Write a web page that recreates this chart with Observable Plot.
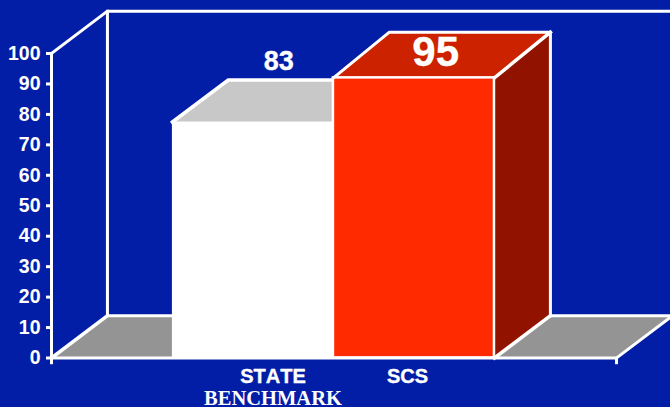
<!DOCTYPE html>
<html>
<head>
<meta charset="utf-8">
<script src="https://cdn.jsdelivr.net/npm/d3@7"></script>
<script src="https://cdn.jsdelivr.net/npm/@observablehq/plot@0.6"></script>
<style>html,body{margin:0;padding:0;background:#031ea6;overflow:hidden}svg{display:block}svg text{font-kerning:none}</style>
</head>
<body>
<div id="chart"></div>
<script>
const categories = ["STATE", "SCS"];
const categoryX = [39.2, 63];
const printedValues = [83, 95];
const barLeft = [21.4, 49.9];
const barRight = [49.9, 78.4];
const barFrontTop = [77.5, 92];
const barBackTop = [91.3, 107];
const depthX = 9.9;
const depthY = 13.9;
const yTicks = [0, 10, 20, 30, 40, 50, 60, 70, 80, 90, 100];
const floorEnd = 100;

const WHITE = "#ffffff";
const path = (...pts) => pts.map(([x, y]) => ({x, y}));
const L = barLeft, R = barRight, F = barFrontTop, B = barBackTop;

const fillFace = (pts, fill) => Plot.line(pts, {x: "x", y: "y", fill, stroke: "none", curve: "linear"});
const strokeLine = (pts, strokeWidth = 3) =>
  Plot.line(pts, {x: "x", y: "y", stroke: WHITE, strokeWidth, strokeLinecap: "square", strokeLinejoin: "miter"});
const heavy = {stroke: WHITE, strokeWidth: 0.35};

const chart = Plot.plot({
  width: 670,
  height: 407,
  marginLeft: 51,
  marginRight: 54,
  marginTop: 53,
  marginBottom: 49.5,
  style: {background: "#031ea6", overflow: "visible"},
  x: {domain: [0, floorEnd], axis: null},
  y: {domain: [0, 100], axis: null},
  marks: [
    // floor and back wall
    fillFace(path([0, 0], [depthX, depthY], [floorEnd + depthX, depthY], [floorEnd, 0]), "#949494"),
    strokeLine(path([0, 100], [depthX, 100 + depthY], [floorEnd + depthX, 100 + depthY])),
    strokeLine(path([depthX, 100 + depthY], [depthX, depthY], [floorEnd + depthX, depthY], [floorEnd, 0])),
    strokeLine(path([0, 0], [depthX, depthY]), 3.5),

    // STATE bar
    fillFace(path([L[0], F[0]], [L[0] + depthX, B[0]], [R[0] + depthX, B[0]], [R[0], F[0]]), "#c8c8c8"),
    strokeLine(path([L[0], F[0]], [L[0] + depthX, B[0]], [R[0], B[0]]), 3.5),
    Plot.rect([0], {x1: L[0], x2: R[0], y1: 0, y2: F[0], fill: WHITE}),

    // SCS bar
    fillFace(path([R[1], 0], [R[1] + depthX, depthY], [R[1] + depthX, B[1]], [R[1], F[1]]), "#921200"),
    fillFace(path([L[1], F[1]], [L[1] + depthX, B[1]], [R[1] + depthX, B[1]], [R[1], F[1]]), "#cc2200"),
    Plot.rect([0], {x1: L[1], x2: R[1], y1: 0, y2: F[1], fill: "#ff2a00", stroke: WHITE, strokeWidth: 2.5}),
    strokeLine(path([L[1], F[1]], [L[1] + depthX, B[1]], [R[1] + depthX, B[1]], [R[1] + depthX, depthY])),
    strokeLine(path([R[1], F[1]], [R[1] + depthX, B[1]]), 3.5),
    strokeLine(path([R[1], 0], [R[1] + depthX, depthY]), 3.5),

    // axes
    Plot.ruleX([0], {y1: 0, y2: 100, stroke: WHITE, strokeWidth: 3}),
    Plot.ruleY([0], {x1: 0, x2: floorEnd, stroke: WHITE, strokeWidth: 3}),
    Plot.ruleX([0, floorEnd], {y1: 0, y2: -2.2, stroke: WHITE, strokeWidth: 3}),
    Plot.axisY({
      ticks: yTicks, anchor: "left", tickSize: 5, tickPadding: 6, color: WHITE, strokeWidth: 3,
      fontSize: 19.5, fontWeight: "bold", fontFamily: "Liberation Sans", label: null, tickFormat: d => `${d}`
    }),

    // value labels
    Plot.text([printedValues[0]], {
      x: (L[0] + R[0]) / 2 + depthX * 0.3 + 1.6, y: B[0], text: d => `${d}`, dy: -10, lineAnchor: "bottom",
      fill: WHITE, fontSize: 27, fontWeight: "bold", fontFamily: "Liberation Sans", ...heavy
    }),
    Plot.text([printedValues[1]], {
      x: (L[1] + R[1]) / 2 + depthX * 0.6 - 2.1, y: B[1], text: d => `${d}`, dy: 34, lineAnchor: "bottom",
      fill: WHITE, fontSize: 42, fontWeight: "bold", fontFamily: "Liberation Sans", ...heavy
    }),

    // category labels
    Plot.text(categories, {
      x: (d, i) => categoryX[i], y: 0, text: d => d, dy: 18.5, lineAnchor: "middle",
      fill: WHITE, fontSize: 20, fontWeight: "bold", fontFamily: "Liberation Sans", ...heavy
    }),
    Plot.text(["BENCHMARK"], {
      x: categoryX[0], y: 0, text: d => d, dy: 40.5, lineAnchor: "middle",
      fill: WHITE, fontSize: 20.5, fontWeight: "bold", fontFamily: "Liberation Serif"
    })
  ]
});
document.getElementById("chart").appendChild(chart);
</script>
</body>
</html>
